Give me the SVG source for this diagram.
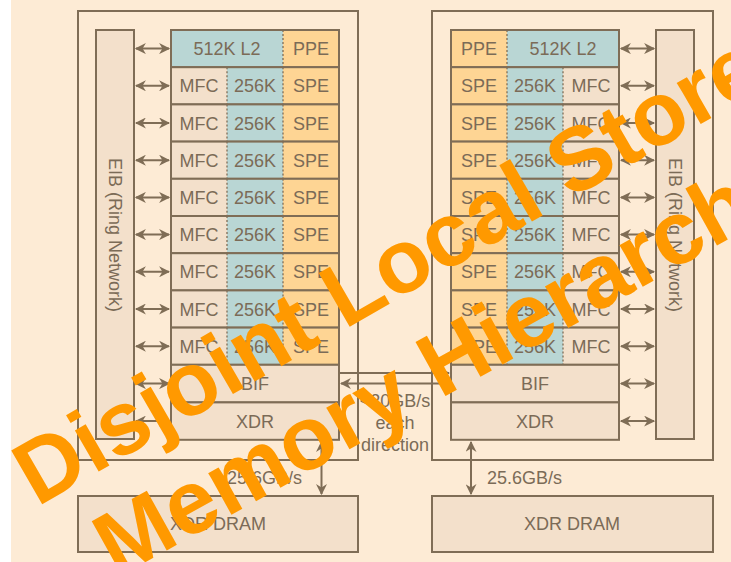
<svg xmlns="http://www.w3.org/2000/svg" width="731" height="562" viewBox="0 0 731 562">
<defs>
<style>
.bg{fill:#fdebd5}
.ob{fill:none;stroke:#7f6d56;stroke-width:2}
.bx{fill:#f3e0cb;stroke:#7f6d56;stroke-width:2}
.fb{fill:#f3e0cb}
.ft{fill:#b9d6d4}
.fo{fill:#fed594}
.rw{fill:none;stroke:#7f6d56;stroke-width:2}
.dt{stroke:#7f6d56;stroke-width:1.3;stroke-dasharray:2 2}
.t{font-family:"Liberation Sans",Arial,sans-serif;font-size:18px;fill:#7b6b57;text-anchor:middle}
.tl{font-family:"Liberation Sans",Arial,sans-serif;font-size:18px;fill:#7b6b57}
.ar{stroke:#7f6d56;stroke-width:2;fill:none;marker-start:url(#ah);marker-end:url(#ah)}
.a1{stroke:#7f6d56;stroke-width:2;fill:none;marker-end:url(#ah)}
.wm{font-family:"Liberation Sans",Arial,sans-serif;font-weight:bold;font-size:90px;fill:#ff9900;text-anchor:middle}
</style>
<marker id="ah" viewBox="0 0 10 10" refX="9" refY="5" markerWidth="11" markerHeight="11" markerUnits="userSpaceOnUse" orient="auto-start-reverse">
<path d="M0,0 L10,5 L0,10 L3,5 z" fill="#7f6d56"/>
</marker>
</defs>
<rect x="0" y="0" width="731" height="562" fill="#ffffff"/>
<rect class="bg" x="11" y="0" width="720" height="562"/>

<g id="chip-left">
<rect class="ob" x="78" y="11" width="280" height="449"/>
</g>
<g id="chip-right">
<rect class="ob" x="432" y="11" width="281" height="449"/>
</g>

<g id="eib-left">
<rect class="bx" x="96" y="30" width="38" height="409"/>
<text class="t" transform="translate(109,235) rotate(90)" text-anchor="middle">EIB (Ring Network)</text>
</g>
<g id="eib-right">
<rect class="bx" x="656" y="30" width="38" height="409"/>
<text class="t" transform="translate(669,235) rotate(90)" text-anchor="middle">EIB (Ring Network)</text>
</g>

<g id="left-l2-ppe">
<rect class="ft" x="171" y="30" width="112" height="37.2"/>
<rect class="fo" x="283" y="30" width="56" height="37.2"/>
<line class="dt" x1="283" y1="30" x2="283" y2="67.2"/>
<rect class="rw" x="171" y="30" width="168" height="37.2"/>
<text class="t" x="227" y="55">512K L2</text>
<text class="t" x="311" y="55">PPE</text>
</g>
<g id="right-l2-ppe">
<rect class="fo" x="451" y="30" width="56" height="37.2"/>
<rect class="ft" x="507" y="30" width="112" height="37.2"/>
<line class="dt" x1="507" y1="30" x2="507" y2="67.2"/>
<rect class="rw" x="451" y="30" width="168" height="37.2"/>
<text class="t" x="479" y="55">PPE</text>
<text class="t" x="563" y="55">512K L2</text>
</g>

<g id="left-spe-1"><rect class="fb" x="171" y="67.2" width="56" height="37.2"/><rect class="ft" x="227" y="67.2" width="56" height="37.2"/><rect class="fo" x="283" y="67.2" width="56" height="37.2"/><line class="dt" x1="227" y1="67.2" x2="227" y2="104.4"/><line class="dt" x1="283" y1="67.2" x2="283" y2="104.4"/><rect class="rw" x="171" y="67.2" width="168" height="37.2"/><text class="t" x="199" y="92.3">MFC</text><text class="t" x="255" y="92.3">256K</text><text class="t" x="311" y="92.3">SPE</text></g>
<g id="left-spe-2"><rect class="fb" x="171" y="104.4" width="56" height="37.2"/><rect class="ft" x="227" y="104.4" width="56" height="37.2"/><rect class="fo" x="283" y="104.4" width="56" height="37.2"/><line class="dt" x1="227" y1="104.4" x2="227" y2="141.6"/><line class="dt" x1="283" y1="104.4" x2="283" y2="141.6"/><rect class="rw" x="171" y="104.4" width="168" height="37.2"/><text class="t" x="199" y="129.5">MFC</text><text class="t" x="255" y="129.5">256K</text><text class="t" x="311" y="129.5">SPE</text></g>
<g id="left-spe-3"><rect class="fb" x="171" y="141.6" width="56" height="37.2"/><rect class="ft" x="227" y="141.6" width="56" height="37.2"/><rect class="fo" x="283" y="141.6" width="56" height="37.2"/><line class="dt" x1="227" y1="141.6" x2="227" y2="178.8"/><line class="dt" x1="283" y1="141.6" x2="283" y2="178.8"/><rect class="rw" x="171" y="141.6" width="168" height="37.2"/><text class="t" x="199" y="166.7">MFC</text><text class="t" x="255" y="166.7">256K</text><text class="t" x="311" y="166.7">SPE</text></g>
<g id="left-spe-4"><rect class="fb" x="171" y="178.8" width="56" height="37.2"/><rect class="ft" x="227" y="178.8" width="56" height="37.2"/><rect class="fo" x="283" y="178.8" width="56" height="37.2"/><line class="dt" x1="227" y1="178.8" x2="227" y2="216"/><line class="dt" x1="283" y1="178.8" x2="283" y2="216"/><rect class="rw" x="171" y="178.8" width="168" height="37.2"/><text class="t" x="199" y="203.9">MFC</text><text class="t" x="255" y="203.9">256K</text><text class="t" x="311" y="203.9">SPE</text></g>
<g id="left-spe-5"><rect class="fb" x="171" y="216" width="56" height="37.2"/><rect class="ft" x="227" y="216" width="56" height="37.2"/><rect class="fo" x="283" y="216" width="56" height="37.2"/><line class="dt" x1="227" y1="216" x2="227" y2="253.2"/><line class="dt" x1="283" y1="216" x2="283" y2="253.2"/><rect class="rw" x="171" y="216" width="168" height="37.2"/><text class="t" x="199" y="241.1">MFC</text><text class="t" x="255" y="241.1">256K</text><text class="t" x="311" y="241.1">SPE</text></g>
<g id="left-spe-6"><rect class="fb" x="171" y="253.2" width="56" height="37.2"/><rect class="ft" x="227" y="253.2" width="56" height="37.2"/><rect class="fo" x="283" y="253.2" width="56" height="37.2"/><line class="dt" x1="227" y1="253.2" x2="227" y2="290.4"/><line class="dt" x1="283" y1="253.2" x2="283" y2="290.4"/><rect class="rw" x="171" y="253.2" width="168" height="37.2"/><text class="t" x="199" y="278.3">MFC</text><text class="t" x="255" y="278.3">256K</text><text class="t" x="311" y="278.3">SPE</text></g>
<g id="left-spe-7"><rect class="fb" x="171" y="290.4" width="56" height="37.2"/><rect class="ft" x="227" y="290.4" width="56" height="37.2"/><rect class="fo" x="283" y="290.4" width="56" height="37.2"/><line class="dt" x1="227" y1="290.4" x2="227" y2="327.6"/><line class="dt" x1="283" y1="290.4" x2="283" y2="327.6"/><rect class="rw" x="171" y="290.4" width="168" height="37.2"/><text class="t" x="199" y="315.5">MFC</text><text class="t" x="255" y="315.5">256K</text><text class="t" x="311" y="315.5">SPE</text></g>
<g id="left-spe-8"><rect class="fb" x="171" y="327.6" width="56" height="37.2"/><rect class="ft" x="227" y="327.6" width="56" height="37.2"/><rect class="fo" x="283" y="327.6" width="56" height="37.2"/><line class="dt" x1="227" y1="327.6" x2="227" y2="364.8"/><line class="dt" x1="283" y1="327.6" x2="283" y2="364.8"/><rect class="rw" x="171" y="327.6" width="168" height="37.2"/><text class="t" x="199" y="352.7">MFC</text><text class="t" x="255" y="352.7">256K</text><text class="t" x="311" y="352.7">SPE</text></g>

<g id="right-spe-1"><rect class="fo" x="451" y="67.2" width="56" height="37.2"/><rect class="ft" x="507" y="67.2" width="56" height="37.2"/><rect class="fb" x="563" y="67.2" width="56" height="37.2"/><line class="dt" x1="507" y1="67.2" x2="507" y2="104.4"/><line class="dt" x1="563" y1="67.2" x2="563" y2="104.4"/><rect class="rw" x="451" y="67.2" width="168" height="37.2"/><text class="t" x="479" y="92.3">SPE</text><text class="t" x="535" y="92.3">256K</text><text class="t" x="591" y="92.3">MFC</text></g>
<g id="right-spe-2"><rect class="fo" x="451" y="104.4" width="56" height="37.2"/><rect class="ft" x="507" y="104.4" width="56" height="37.2"/><rect class="fb" x="563" y="104.4" width="56" height="37.2"/><line class="dt" x1="507" y1="104.4" x2="507" y2="141.6"/><line class="dt" x1="563" y1="104.4" x2="563" y2="141.6"/><rect class="rw" x="451" y="104.4" width="168" height="37.2"/><text class="t" x="479" y="129.5">SPE</text><text class="t" x="535" y="129.5">256K</text><text class="t" x="591" y="129.5">MFC</text></g>
<g id="right-spe-3"><rect class="fo" x="451" y="141.6" width="56" height="37.2"/><rect class="ft" x="507" y="141.6" width="56" height="37.2"/><rect class="fb" x="563" y="141.6" width="56" height="37.2"/><line class="dt" x1="507" y1="141.6" x2="507" y2="178.8"/><line class="dt" x1="563" y1="141.6" x2="563" y2="178.8"/><rect class="rw" x="451" y="141.6" width="168" height="37.2"/><text class="t" x="479" y="166.7">SPE</text><text class="t" x="535" y="166.7">256K</text><text class="t" x="591" y="166.7">MFC</text></g>
<g id="right-spe-4"><rect class="fo" x="451" y="178.8" width="56" height="37.2"/><rect class="ft" x="507" y="178.8" width="56" height="37.2"/><rect class="fb" x="563" y="178.8" width="56" height="37.2"/><line class="dt" x1="507" y1="178.8" x2="507" y2="216"/><line class="dt" x1="563" y1="178.8" x2="563" y2="216"/><rect class="rw" x="451" y="178.8" width="168" height="37.2"/><text class="t" x="479" y="203.9">SPE</text><text class="t" x="535" y="203.9">256K</text><text class="t" x="591" y="203.9">MFC</text></g>
<g id="right-spe-5"><rect class="fo" x="451" y="216" width="56" height="37.2"/><rect class="ft" x="507" y="216" width="56" height="37.2"/><rect class="fb" x="563" y="216" width="56" height="37.2"/><line class="dt" x1="507" y1="216" x2="507" y2="253.2"/><line class="dt" x1="563" y1="216" x2="563" y2="253.2"/><rect class="rw" x="451" y="216" width="168" height="37.2"/><text class="t" x="479" y="241.1">SPE</text><text class="t" x="535" y="241.1">256K</text><text class="t" x="591" y="241.1">MFC</text></g>
<g id="right-spe-6"><rect class="fo" x="451" y="253.2" width="56" height="37.2"/><rect class="ft" x="507" y="253.2" width="56" height="37.2"/><rect class="fb" x="563" y="253.2" width="56" height="37.2"/><line class="dt" x1="507" y1="253.2" x2="507" y2="290.4"/><line class="dt" x1="563" y1="253.2" x2="563" y2="290.4"/><rect class="rw" x="451" y="253.2" width="168" height="37.2"/><text class="t" x="479" y="278.3">SPE</text><text class="t" x="535" y="278.3">256K</text><text class="t" x="591" y="278.3">MFC</text></g>
<g id="right-spe-7"><rect class="fo" x="451" y="290.4" width="56" height="37.2"/><rect class="ft" x="507" y="290.4" width="56" height="37.2"/><rect class="fb" x="563" y="290.4" width="56" height="37.2"/><line class="dt" x1="507" y1="290.4" x2="507" y2="327.6"/><line class="dt" x1="563" y1="290.4" x2="563" y2="327.6"/><rect class="rw" x="451" y="290.4" width="168" height="37.2"/><text class="t" x="479" y="315.5">SPE</text><text class="t" x="535" y="315.5">256K</text><text class="t" x="591" y="315.5">MFC</text></g>
<g id="right-spe-8"><rect class="fo" x="451" y="327.6" width="56" height="37.2"/><rect class="ft" x="507" y="327.6" width="56" height="37.2"/><rect class="fb" x="563" y="327.6" width="56" height="37.2"/><line class="dt" x1="507" y1="327.6" x2="507" y2="364.8"/><line class="dt" x1="563" y1="327.6" x2="563" y2="364.8"/><rect class="rw" x="451" y="327.6" width="168" height="37.2"/><text class="t" x="479" y="352.7">SPE</text><text class="t" x="535" y="352.7">256K</text><text class="t" x="591" y="352.7">MFC</text></g>

<g id="left-bif"><rect class="bx" x="171" y="364.8" width="168" height="37.6"/><text class="t" x="255" y="390">BIF</text></g>
<g id="left-xdr"><rect class="bx" x="171" y="402.4" width="168" height="37.4"/><text class="t" x="255" y="427.5">XDR</text></g>
<g id="right-bif"><rect class="bx" x="451" y="364.8" width="168" height="37.6"/><text class="t" x="535" y="390">BIF</text></g>
<g id="right-xdr"><rect class="bx" x="451" y="402.4" width="168" height="37.4"/><text class="t" x="535" y="427.5">XDR</text></g>

<g id="dram-left"><rect class="bx" x="78" y="496" width="280" height="56"/><text class="t" x="218" y="530">XDR DRAM</text></g>
<g id="dram-right"><rect class="bx" x="432" y="496" width="281" height="56"/><text class="t" x="572" y="530">XDR DRAM</text></g>

<g id="connectors">
<line class="ar" x1="136" y1="48.6" x2="169" y2="48.6"/>
<line class="ar" x1="136" y1="85.8" x2="169" y2="85.8"/>
<line class="ar" x1="136" y1="123" x2="169" y2="123"/>
<line class="ar" x1="136" y1="160.2" x2="169" y2="160.2"/>
<line class="ar" x1="136" y1="197.4" x2="169" y2="197.4"/>
<line class="ar" x1="136" y1="234.6" x2="169" y2="234.6"/>
<line class="ar" x1="136" y1="271.8" x2="169" y2="271.8"/>
<line class="ar" x1="136" y1="309" x2="169" y2="309"/>
<line class="ar" x1="136" y1="346.2" x2="169" y2="346.2"/>
<line class="ar" x1="136" y1="383.6" x2="169" y2="383.6"/>
<line class="ar" x1="136" y1="421.1" x2="169" y2="421.1"/>
<line class="ar" x1="621" y1="48.6" x2="654" y2="48.6"/>
<line class="ar" x1="621" y1="85.8" x2="654" y2="85.8"/>
<line class="ar" x1="621" y1="123" x2="654" y2="123"/>
<line class="ar" x1="621" y1="160.2" x2="654" y2="160.2"/>
<line class="ar" x1="621" y1="197.4" x2="654" y2="197.4"/>
<line class="ar" x1="621" y1="234.6" x2="654" y2="234.6"/>
<line class="ar" x1="621" y1="271.8" x2="654" y2="271.8"/>
<line class="ar" x1="621" y1="309" x2="654" y2="309"/>
<line class="ar" x1="621" y1="346.2" x2="654" y2="346.2"/>
<line class="ar" x1="621" y1="383.6" x2="654" y2="383.6"/>
<line class="ar" x1="621" y1="421.1" x2="654" y2="421.1"/>
<line class="a1" x1="340" y1="373" x2="449" y2="373"/>
<line class="a1" x1="450" y1="383.5" x2="341" y2="383.5"/>
<line class="ar" x1="321.5" y1="442" x2="321.5" y2="494"/>
<line class="ar" x1="471" y1="442" x2="471" y2="494"/>
<text class="tl" x="227" y="484">25.6GB/s</text>
<text class="tl" x="487" y="484">25.6GB/s</text>
<text class="t" x="395" y="407">&lt;20GB/s</text>
<text class="t" x="395" y="429">each</text>
<text class="t" x="395" y="451">direction</text>
</g>

<g id="watermark">
<text class="wm" transform="translate(403,296) rotate(-30)">Disjoint Local Store</text>
<text class="wm" transform="translate(460,388) rotate(-29)">Memory Hierarchy</text>
</g>
</svg>
